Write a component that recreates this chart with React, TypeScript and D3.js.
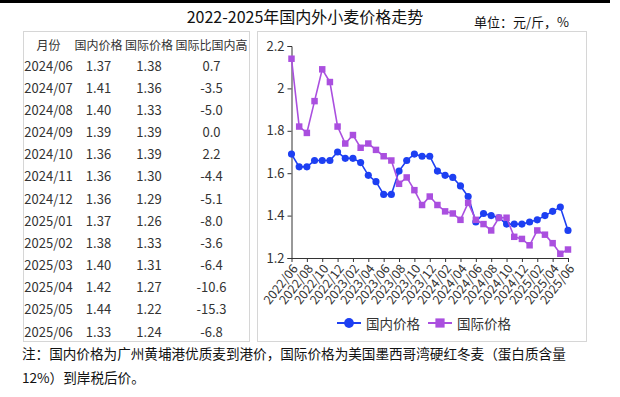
import React, { useEffect, useRef } from "react";
import * as d3 from "d3";

const months = [
  "2022/06", "2022/07", "2022/08", "2022/09", "2022/10", "2022/11", "2022/12",
  "2023/01", "2023/02", "2023/03", "2023/04", "2023/05", "2023/06", "2023/07",
  "2023/08", "2023/09", "2023/10", "2023/11", "2023/12", "2024/01", "2024/02",
  "2024/03", "2024/04", "2024/05", "2024/06", "2024/07", "2024/08", "2024/09",
  "2024/10", "2024/11", "2024/12", "2025/01", "2025/02", "2025/03", "2025/04",
  "2025/05", "2025/06",
];

const domestic = [
  1.69, 1.63, 1.63, 1.66, 1.66, 1.66, 1.70, 1.67, 1.67, 1.65, 1.59, 1.56, 1.50,
  1.50, 1.61, 1.66, 1.69, 1.68, 1.68, 1.61, 1.59, 1.58, 1.54, 1.49, 1.37, 1.41,
  1.40, 1.39, 1.36, 1.36, 1.36, 1.37, 1.38, 1.40, 1.42, 1.44, 1.33,
];

const international = [
  2.14, 1.82, 1.79, 1.94, 2.09, 2.03, 1.82, 1.74, 1.78, 1.72, 1.74, 1.71, 1.68,
  1.66, 1.55, 1.58, 1.52, 1.45, 1.49, 1.45, 1.42, 1.41, 1.38, 1.46, 1.38, 1.36,
  1.33, 1.39, 1.39, 1.30, 1.29, 1.26, 1.33, 1.31, 1.27, 1.22, 1.24,
];

const xTickLabels = [
  "2022/06", "2022/08", "2022/10", "2022/12", "2023/02", "2023/04", "2023/06",
  "2023/08", "2023/10", "2023/12", "2024/02", "2024/04", "2024/06", "2024/08",
  "2024/10", "2024/12", "2025/02", "2025/04", "2025/06",
];
const yTicks = [1.2, 1.4, 1.6, 1.8, 2.0, 2.2];

const tableHeader = ["月份", "国内价格", "国际价格", "国际比国内高"];
const tableMonths = [
  "2024/06", "2024/07", "2024/08", "2024/09", "2024/10", "2024/11", "2024/12",
  "2025/01", "2025/02", "2025/03", "2025/04", "2025/05", "2025/06",
];
const tableDomestic = ["1.37", "1.41", "1.40", "1.39", "1.36", "1.36", "1.36", "1.37", "1.38", "1.40", "1.42", "1.44", "1.33"];
const tableIntl = ["1.38", "1.36", "1.33", "1.39", "1.39", "1.30", "1.29", "1.26", "1.33", "1.31", "1.27", "1.22", "1.24"];
const tableDiff = ["0.7", "-3.5", "-5.0", "0.0", "2.2", "-4.4", "-5.1", "-8.0", "-3.6", "-6.4", "-10.6", "-15.3", "-6.8"];

const seriesNames = ["国内价格", "国际价格"];
const BLUE = "#1d3ff2";
const PURPLE = "#aa4fdf";
const FONT = "'Noto Sans CJK SC', 'Noto Sans', sans-serif";

export default function App() {
  const ref = useRef<SVGSVGElement>(null);

  useEffect(() => {
    const svg = d3.select(ref.current);
    svg.selectAll("*").remove();

    // top black rule
    svg.append("rect").attr("x", 0).attr("y", 0).attr("width", 610).attr("height", 3).attr("fill", "#000");

    svg.append("text")
      .attr("x", 305).attr("y", 16)
      .attr("text-anchor", "middle").attr("dominant-baseline", "central")
      .attr("font-size", 16).attr("font-family", FONT).attr("fill", "#111")
      .text("2022-2025年国内外小麦价格走势");

    svg.append("text")
      .attr("x", 474).attr("y", 21)
      .attr("dominant-baseline", "central")
      .attr("font-size", 13).attr("font-family", FONT).attr("fill", "#111")
      .text("单位：元/斤，%");

    // table
    svg.append("rect").attr("x", 23.5).attr("y", 31.5).attr("width", 226).attr("height", 310)
      .attr("fill", "none").attr("stroke", "#d6d6d6");

    const colX = [48.5, 98.5, 149, 211.5];
    const table = svg.append("g").attr("font-family", FONT).attr("fill", "#333");
    tableHeader.forEach((h, i) => {
      table.append("text")
        .attr("x", colX[i]).attr("y", 44)
        .attr("text-anchor", "middle").attr("dominant-baseline", "central")
        .attr("font-size", 12).text(h);
    });
    tableMonths.forEach((m, r) => {
      const y = 65 + r * 22.17;
      [m, tableDomestic[r], tableIntl[r], tableDiff[r]].forEach((v, i) => {
        table.append("text")
          .attr("x", colX[i]).attr("y", y)
          .attr("text-anchor", "middle").attr("dominant-baseline", "central")
          .attr("font-size", 13).text(v);
      });
    });

    // chart box
    svg.append("rect").attr("x", 257.5).attr("y", 31.5).attr("width", 329).attr("height", 310)
      .attr("fill", "none").attr("stroke", "#d6d6d6");

    const x = d3.scalePoint<string>().domain(months).range([291.5, 568]);
    const y = d3.scaleLinear().domain([1.2, 2.2]).range([258, 46]);

    const yAxis = svg.append("g")
      .attr("transform", "translate(291.5,0)")
      .call(d3.axisLeft(y).tickValues(yTicks).tickSize(4).tickPadding(3).tickFormat(d3.format("~g")));
    yAxis.selectAll("path, line").attr("stroke", "#333");
    yAxis.selectAll("text").attr("font-size", 13).attr("font-family", FONT).attr("fill", "#333");

    const xAxis = svg.append("g")
      .attr("transform", "translate(0,258)")
      .call(d3.axisBottom(x).tickValues(xTickLabels).tickSize(4).tickSizeOuter(0));
    xAxis.selectAll("path, line").attr("stroke", "#333");
    xAxis.selectAll("text")
      .attr("font-size", 12.5).attr("font-family", FONT).attr("fill", "#333")
      .attr("x", 0).attr("y", 0).attr("dy", "0.35em")
      .attr("text-anchor", "end")
      .attr("transform", "translate(3,8) rotate(-52)");

    const series = [
      { values: domestic, color: BLUE, symbol: d3.symbolCircle, size: 40 },
      { values: international, color: PURPLE, symbol: d3.symbolSquare, size: 42 },
    ];

    const line = d3.line<number>()
      .x((d, i) => x(months[i]) as number)
      .y(d => y(d));

    series.forEach(s => {
      svg.append("path")
        .attr("d", line(s.values))
        .attr("fill", "none").attr("stroke", s.color).attr("stroke-width", 1.6);
      svg.append("g").selectAll("path")
        .data(s.values)
        .join("path")
        .attr("transform", (d, i) => `translate(${x(months[i])},${y(d)})`)
        .attr("d", d3.symbol().type(s.symbol).size(s.size)())
        .attr("fill", s.color);
    });

    // legend
    const legendX = [337, 428];
    series.forEach((s, i) => {
      const g = svg.append("g").attr("transform", `translate(${legendX[i]},323)`);
      g.append("line").attr("x1", 0).attr("x2", 24).attr("stroke", s.color).attr("stroke-width", 2);
      g.append("path")
        .attr("transform", "translate(12,0)")
        .attr("d", d3.symbol().type(s.symbol).size(i === 0 ? 75 : 85)())
        .attr("fill", s.color);
      g.append("text")
        .attr("x", 29).attr("y", 0).attr("dominant-baseline", "central")
        .attr("font-size", 13.5).attr("font-family", FONT).attr("fill", "#333")
        .text(seriesNames[i]);
    });

    // footnote
    const note = svg.append("g").attr("font-family", FONT).attr("fill", "#111").attr("font-size", 13.6);
    note.append("text").attr("x", 22).attr("y", 353).attr("dominant-baseline", "central")
      .text("注：国内价格为广州黄埔港优质麦到港价，国际价格为美国墨西哥湾硬红冬麦（蛋白质含量");
    note.append("text").attr("x", 22).attr("y", 377).attr("dominant-baseline", "central")
      .text("12%）到岸税后价。");
  }, []);

  return (
    <svg
      ref={ref}
      width={620}
      height={397}
      style={{ position: "absolute", left: 0, top: 0, background: "#fff" }}
    />
  );
}
